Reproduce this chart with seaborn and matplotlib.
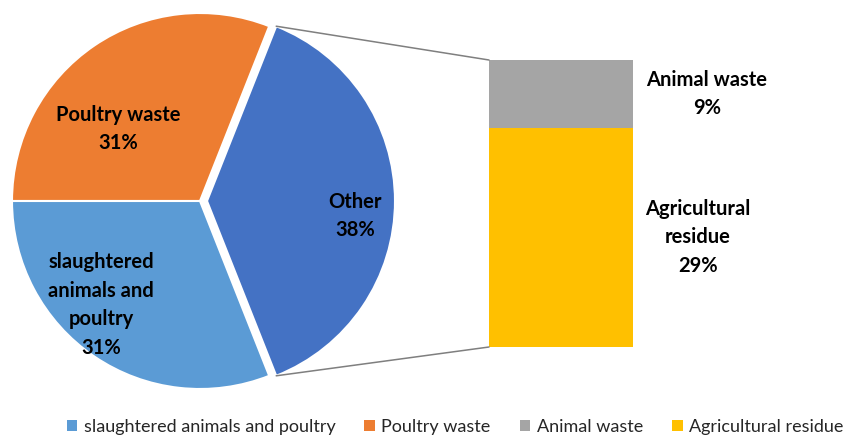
import matplotlib
matplotlib.use("Agg")
import matplotlib.pyplot as plt
from matplotlib.patches import ConnectionPatch, Patch
import numpy as np
import pandas as pd
import seaborn as sns

sns.set_theme(style="white")
plt.rcParams["font.family"] = ["Lato", "DejaVu Sans"]

# Pie: main categories plus the combined "Other" slice
pie_labels = ["Other", "Poultry waste", "slaughtered animals and poultry"]
pie_values = [38, 31, 31]
pie_colors = ["#4472C4", "#ED7D31", "#5B9BD5"]

# Bar: breakdown of "Other"
bar_labels = ["Agricultural residue", "Animal waste"]
bar_values = [29, 9]
bar_colors = ["#FFC000", "#A5A5A5"]

legend_order = ["slaughtered animals and poultry", "Poultry waste",
                "Animal waste", "Agricultural residue"]

W, H = 845, 437
fig = plt.figure(figsize=(W / 100, H / 100), dpi=100)

# Pie axes in pixel units
ax = fig.add_axes([0, 0, 1, 1])
cx, cy, R = 200, 236, 188
start = -360 * pie_values[0] / sum(pie_values) / 2
wedges, _ = ax.pie(pie_values, colors=pie_colors, startangle=start,
                   counterclock=True, center=(cx, cy), radius=R,
                   explode=[7, 0, 0],
                   wedgeprops=dict(edgecolor="white", linewidth=1.5))
ax.set_xlim(0, W)
ax.set_ylim(0, H)
ax.set_aspect("equal")
ax.axis("off")

lab_kw = dict(ha="center", va="center", fontsize=14.5, fontweight="bold",
              color="black", linespacing=1.55)
ax.text(118, H - 129, f"{pie_labels[1]}\n{pie_values[1]}%", **lab_kw)
ax.text(101, H - 305, f"slaughtered\nanimals and\npoultry\n{pie_values[2]}%", **lab_kw)
ax.text(355, H - 216, f"{pie_labels[0]}\n{pie_values[0]}%", **lab_kw)

# Stacked bar for the breakdown
bx0, bx1, by_top, by_bot = 489, 633, 60, 347
axb = fig.add_axes([bx0 / W, (H - by_bot) / H, (bx1 - bx0) / W, (by_bot - by_top) / H])
cum = np.cumsum(bar_values)
for lbl, top, col in sorted(zip(bar_labels, cum, bar_colors), key=lambda t: -t[1]):
    df = pd.DataFrame({"grp": ["Other"], "val": [top]})
    sns.barplot(data=df, x="grp", y="val", color=col, saturation=1,
                width=1, linewidth=0, ax=axb)
axb.set_xlim(-0.5, 0.5)
axb.set_ylim(0, sum(bar_values))
axb.axis("off")

bottoms = cum - np.array(bar_values)
offsets = {"Animal waste": 74, "Agricultural residue": 65}
texts = {"Animal waste": "Animal waste", "Agricultural residue": "Agricultural\nresidue"}
for lbl, val, b in zip(bar_labels, bar_values, bottoms):
    axb.annotate(f"{texts[lbl]}\n{val}%", xy=(0.5, b + val / 2),
                 xytext=(offsets[lbl], 0), textcoords="offset pixels",
                 annotation_clip=False, **lab_kw)

# Connector lines from the "Other" slice to the bar
w = wedges[0]
wcx, wcy = w.center
for theta, yb in ((w.theta2, sum(bar_values)), (w.theta1, 0)):
    px = wcx + w.r * np.cos(np.radians(theta))
    py = wcy + w.r * np.sin(np.radians(theta))
    con = ConnectionPatch(xyA=(px, py), coordsA=ax.transData,
                          xyB=(-0.5, yb), coordsB=axb.transData,
                          color="#7F7F7F", linewidth=1.1)
    fig.add_artist(con)

# Legend
color_map = dict(zip(pie_labels + bar_labels, pie_colors + bar_colors))
handles = [Patch(facecolor=color_map[n], edgecolor="none", label=n) for n in legend_order]
fig.legend(handles=handles, loc="center", bbox_to_anchor=(455 / W, 1 - 427 / H),
           ncol=4, frameon=False, fontsize=13, handlelength=0.6, handleheight=0.6,
           handletextpad=0.35, columnspacing=1.6, borderpad=0)

fig.savefig("out.png", dpi=100)
